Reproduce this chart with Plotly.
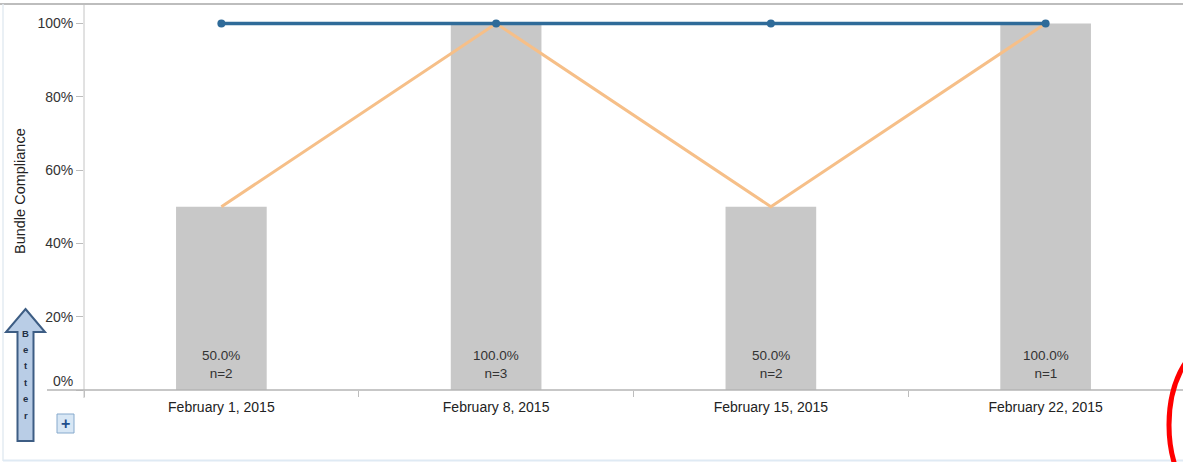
import plotly.graph_objects as go

# Weekly bundle compliance data
weeks = ["February 1, 2015", "February 8, 2015", "February 15, 2015", "February 22, 2015"]
compliance_pct = [50.0, 100.0, 50.0, 100.0]
case_counts = [2, 3, 2, 1]
target_pct = [100.0, 100.0, 100.0, 100.0]
y_ticks = [0, 20, 40, 60, 80, 100]

W, H = 1183, 462
L, R, T, B = 84, 0, 4, 72
PW, PH = W - L - R, H - T - B


def px(x):
    return (x - L) / PW


def py(y):
    return (H - B - y) / PH


fig = go.Figure()

fig.add_trace(go.Bar(
    x=weeks, y=compliance_pct, width=0.33,
    marker=dict(color="#c8c8c8", line=dict(width=0)),
    hoverinfo="skip", showlegend=False,
))
fig.add_trace(go.Scatter(
    x=weeks, y=compliance_pct, mode="lines",
    line=dict(color="#f6bf88", width=3),
    showlegend=False,
))
fig.add_trace(go.Scatter(
    x=weeks, y=target_pct, mode="lines+markers",
    line=dict(color="#2f6b99", width=3.5),
    marker=dict(color="#2f6b99", size=8),
    showlegend=False, cliponaxis=False,
))

annotations = []
# value / count labels at the foot of each bar
for wk, v, n in zip(weeks, compliance_pct, case_counts):
    annotations.append(dict(
        x=wk, y=0, xref="x", yref="y", yanchor="bottom", xanchor="center", yshift=7,
        text=f"{v:.1f}%<br>n={n}", showarrow=False,
        font=dict(family="Liberation Sans, Arial", size=13.5, color="#333333"),
    ))

# y-axis title
annotations.append(dict(
    x=px(20), y=py(191), xref="paper", yref="paper", textangle=-90,
    xanchor="center", yanchor="middle",
    text="Bundle Compliance", showarrow=False,
    font=dict(family="Liberation Sans, Arial", size=14.5, color="#222222"),
))

# "Better" lettering inside the arrow
for i, ch in enumerate("Better"):
    annotations.append(dict(
        x=px(25.5), y=py(333 + i * 16.4), xref="paper", yref="paper",
        xanchor="center", yanchor="middle",
        text=f"<b>{ch}</b>", showarrow=False,
        font=dict(family="Liberation Sans, Arial", size=9.5, color="#1f2f45"),
    ))

# "+" expander button
annotations.append(dict(
    x=px(65.5), y=py(423.5), xref="paper", yref="paper",
    xanchor="center", yanchor="middle",
    text="<b>+</b>", showarrow=False,
    font=dict(family="Liberation Sans, Arial", size=16, color="#1f4e8c"),
))

arrow_pts = [(25.5, 309), (45, 332), (33.5, 332), (33.5, 441), (17.5, 441), (17.5, 332), (6, 332)]
arrow_path = "M " + " L ".join(f"{px(x):.5f},{py(y):.5f}" for x, y in arrow_pts) + " Z"

shapes = [
    # outer frame top rule
    dict(type="line", xref="paper", yref="paper", x0=px(0), x1=1, y0=py(4), y1=py(4),
         line=dict(color="#bdbdbd", width=2)),
    # faint page border
    dict(type="line", xref="paper", yref="paper", x0=px(3), x1=px(3), y0=py(4), y1=py(461),
         line=dict(color="#e3ebf2", width=1.5)),
    dict(type="line", xref="paper", yref="paper", x0=px(3), x1=1, y0=py(460.5), y1=py(460.5),
         line=dict(color="#dfeaf4", width=2)),
    # axis lines
    dict(type="line", xref="paper", yref="paper", x0=px(84), x1=px(84), y0=py(5), y1=py(398),
         line=dict(color="#c4c4c4", width=1)),
    dict(type="line", xref="paper", yref="paper", x0=px(47), x1=1, y0=0, y1=0,
         line=dict(color="#b4b4b4", width=1.5)),
    # "Better" arrow
    dict(type="path", xref="paper", yref="paper", path=arrow_path,
         fillcolor="#b9cde6", line=dict(color="#3d5d84", width=2)),
    # "+" button box
    dict(type="rect", xref="paper", yref="paper", x0=px(57), x1=px(74), y0=py(433), y1=py(414),
         fillcolor="#d8e7f5", line=dict(color="#86a9cc", width=1)),
    # red callout circle at lower right
    dict(type="circle", xref="paper", yref="paper", x0=px(1169), x1=px(1269),
         y0=py(509), y1=py(341), line=dict(color="#ff0000", width=5)),
]

# the baseline label sits just above the axis line
tick_text = [f"{t}%<br> " if t == 0 else f"{t}%" for t in y_ticks]

fig.update_layout(
    width=W, height=H,
    margin=dict(l=L, r=R, t=T, b=B, pad=0),
    paper_bgcolor="white", plot_bgcolor="white",
    font=dict(family="Liberation Sans, Arial", size=14, color="#333333"),
    bargap=0.67,
    annotations=annotations,
    shapes=shapes,
    xaxis=dict(
        type="category", showgrid=False, showline=False, zeroline=False,
        ticks="outside", tickson="boundaries", ticklen=6, tickcolor="#bdbdbd",
        ticklabelstandoff=7,
        tickfont=dict(size=14, color="#222222"),
        range=[-0.5, 3.5], fixedrange=True,
    ),
    yaxis=dict(
        range=[0, 105.3], tickvals=y_ticks, ticktext=tick_text,
        showgrid=False, showline=False, zeroline=False,
        ticks="outside", ticklen=7, tickcolor="#bdbdbd",
        tickfont=dict(size=14, color="#333333"),
        fixedrange=True,
    ),
)

fig.write_html("out.html")
